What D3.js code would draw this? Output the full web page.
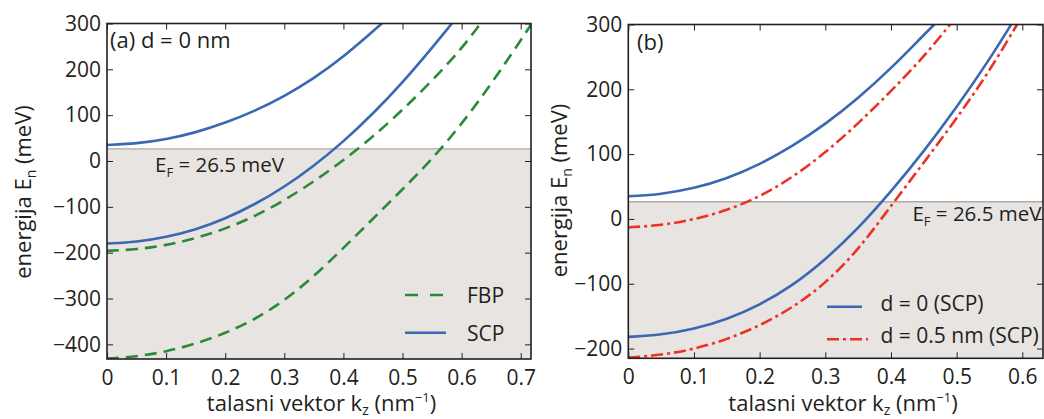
<!DOCTYPE html>
<html><head><meta charset="utf-8">
<script src="https://cdn.jsdelivr.net/npm/d3@7"></script>
<style>
body{margin:0;background:#fff;}
svg{display:block;font-family:"Open Sans",sans-serif;}
</style></head><body>
<svg id="chart" width="1044" height="419"></svg>
<script>
// ---------------- data ----------------
const fermiEnergy = 26.5;
const fermiLabel = "26.5 meV";

// panel (a): d = 0 nm
const kA_scpUpper = [0,0.05,0.1,0.15,0.2,0.25,0.3,0.35,0.4,0.45,0.465];
const eA_scpUpper = [35,38,47,62,83,109,141,180,227,283,300];
const kA_scpLower = [0,0.05,0.1,0.15,0.2,0.25,0.3,0.35,0.4,0.45,0.5,0.55,0.5835];
const eA_scpLower = [-180,-177,-166,-150,-126,-95,-57,-11,42,103,171,247,300];
const kA_fbpUpper = [0,0.05,0.1,0.15,0.2,0.25,0.3,0.35,0.4,0.45,0.5,0.55,0.6,0.632];
const eA_fbpUpper = [-196,-193,-184,-169,-148,-121,-86,-45,1,53,111,175,245,300];
const kA_fbpLower = [0,0.05,0.1,0.15,0.2,0.25,0.3,0.35,0.4,0.45,0.5,0.55,0.6,0.65,0.7,0.72];
const eA_fbpLower = [-431,-427,-416,-399,-376,-346,-305,-252,-190,-126,-62,4,80,168,263,303];

// panel (b): d = 0 vs d = 0.5 nm (SCP)
const kB_d0Upper = [0,0.05,0.1,0.15,0.2,0.25,0.3,0.35,0.4,0.45,0.466];
const eB_d0Upper = [35,38,47,62,84,112,146,186,232,284,300];
const kB_d0Lower = [0,0.05,0.1,0.15,0.2,0.25,0.3,0.35,0.4,0.45,0.5,0.55,0.583];
const eB_d0Lower = [-182,-179,-170,-155,-133,-103,-63,-15,42,104,172,246,300];
const kB_d05Upper = [0,0.05,0.1,0.15,0.2,0.25,0.3,0.35,0.4,0.45,0.49];
const eB_d05Upper = [-13,-10,-1,13,34,64,102,147,197,250,300];
const kB_d05Lower = [0,0.05,0.1,0.15,0.2,0.25,0.3,0.35,0.4,0.45,0.5,0.55,0.592];
const eB_d05Lower = [-214,-210,-201,-186,-165,-137,-100,-48,20,87,155,228,300];

const xTicksA = [0,0.1,0.2,0.3,0.4,0.5,0.6,0.7];
const yTicksA = [300,200,100,0,-100,-200,-300,-400];
const xTicksB = [0,0.1,0.2,0.3,0.4,0.5,0.6];
const yTicksB = [300,200,100,0,-100,-200];

const legendA = ["FBP","SCP"];
const legendB = ["d = 0 (SCP)","d = 0.5 nm (SCP)"];

// ---------------- drawing ----------------
const svg = d3.select("#chart");
const TXT = "#231f20";
const BLUE = "#3a68b2", GREEN = "#2a8a38", RED = "#ee3124";
const SHADE = "#e8e4e2", EFLINE = "#b2aaa6";
const DASH = "12,7", DASHDOT = "12,4,3,4";

function series(k, e){ return k.map((d,i)=>({k:d, e:e[i]})); }
const fmtX = d => d === 0 ? "0" : d3.format(".1f")(d);
const fmtY = d3.format("d");

function panel(cfg){
  const x = d3.scaleLinear().domain(cfg.xDom).range([cfg.x0, cfg.x1]);
  const y = d3.scaleLinear().domain(cfg.yDom).range([cfg.y1, cfg.y0]);
  const g = svg.append("g");
  const clipId = "clip" + cfg.id;
  svg.append("clipPath").attr("id", clipId).append("rect")
    .attr("x", cfg.x0).attr("y", cfg.y0).attr("width", cfg.x1-cfg.x0).attr("height", cfg.y1-cfg.y0);
  const plot = g.append("g").attr("clip-path", `url(#${clipId})`);
  plot.append("rect").attr("x", cfg.x0).attr("y", y(fermiEnergy))
    .attr("width", cfg.x1-cfg.x0).attr("height", cfg.y1 - y(fermiEnergy)).attr("fill", SHADE);
  plot.append("line").attr("x1", cfg.x0).attr("x2", cfg.x1)
    .attr("y1", y(fermiEnergy)).attr("y2", y(fermiEnergy))
    .attr("stroke", EFLINE).attr("stroke-width", 1.3);
  const line = d3.line().x(d=>x(d.k)).y(d=>y(d.e)).curve(d3.curveBasis);
  cfg.curves.forEach(c=>{
    plot.append("path").datum(series(c.k, c.e)).attr("d", line)
      .attr("fill","none").attr("stroke", c.color).attr("stroke-width", 2.6)
      .attr("stroke-dasharray", c.dash || null);
  });
  const styleAxis = a => { a.select(".domain").remove();
    a.selectAll(".tick line").attr("stroke", TXT).attr("stroke-width", 1);
    a.selectAll(".tick text").attr("fill", TXT).attr("font-size", 21).attr("font-family", '"Open Sans",sans-serif'); };
  g.append("g").attr("transform", `translate(0,${cfg.y1})`)
    .call(d3.axisBottom(x).tickValues(cfg.xTicks).tickSize(-6).tickPadding(11).tickFormat(fmtX)).call(styleAxis);
  g.append("g").attr("transform", `translate(0,${cfg.y0})`)
    .call(d3.axisTop(x).tickValues(cfg.xTicks).tickSize(-6).tickFormat("")).call(styleAxis);
  g.append("g").attr("transform", `translate(${cfg.x0},0)`)
    .call(d3.axisLeft(y).tickValues(cfg.yTicks).tickSize(-6).tickPadding(6).tickFormat(fmtY)).call(styleAxis);
  g.append("g").attr("transform", `translate(${cfg.x1},0)`)
    .call(d3.axisRight(y).tickValues(cfg.yTicks).tickSize(-6).tickFormat("")).call(styleAxis);
  g.append("rect").attr("x", cfg.x0).attr("y", cfg.y0).attr("width", cfg.x1-cfg.x0).attr("height", cfg.y1-cfg.y0)
    .attr("fill","none").attr("stroke", TXT).attr("stroke-width", 1.6);
  g.append("text").attr("x", cfg.labelX).attr("y", cfg.labelY).attr("font-size", 22).attr("fill", TXT).text(cfg.label);
  const ef = g.append("text").attr("x", cfg.efX).attr("y", cfg.efY).attr("font-size", 20.5)
    .attr("text-anchor", cfg.efAnchor).attr("fill", TXT);
  ef.append("tspan").text("E");
  ef.append("tspan").attr("font-size", 13).attr("dy", 5).text("F");
  ef.append("tspan").attr("dy", -5).text(" = " + fermiLabel);
  cfg.legend.forEach(l=>{
    g.append("line").attr("x1", l.lx1).attr("x2", l.lx2).attr("y1", l.ly).attr("y2", l.ly)
      .attr("stroke", l.color).attr("stroke-width", 2.6).attr("stroke-dasharray", l.dash || null);
    g.append("text").attr("x", l.tx).attr("y", l.ty).attr("font-size", 21).attr("fill", TXT).text(l.text);
  });
  const xt = g.append("text").attr("x", cfg.xTitleX).attr("y", 411).attr("text-anchor","middle")
    .attr("font-size", 22).attr("fill", TXT);
  xt.append("tspan").text("talasni vektor k");
  xt.append("tspan").attr("font-size", 14).attr("dy", 4).text("z");
  xt.append("tspan").attr("dy", -4).text(" (nm");
  xt.append("tspan").attr("font-size", 13).attr("dy", -9).text("\u22121");
  xt.append("tspan").attr("dy", 9).text(")");
  const yt = g.append("text").attr("transform", `translate(${cfg.yTitleX},${cfg.yTitleY}) rotate(-90)`)
    .attr("text-anchor","middle").attr("font-size", 22).attr("fill", TXT);
  yt.append("tspan").text("energija E");
  yt.append("tspan").attr("font-size", 14).attr("dy", 5).text("n");
  yt.append("tspan").attr("dy", -5).text(" (meV)");
}

panel({
  id:"A", x0:107, x1:531, y0:23.5, y1:359, xDom:[0,0.7174], yDom:[-432,300],
  xTicks:xTicksA, yTicks:yTicksA,
  curves:[
    {k:kA_fbpUpper, e:eA_fbpUpper, color:GREEN, dash:DASH},
    {k:kA_fbpLower, e:eA_fbpLower, color:GREEN, dash:DASH},
    {k:kA_scpUpper, e:eA_scpUpper, color:BLUE},
    {k:kA_scpLower, e:eA_scpLower, color:BLUE}
  ],
  label:"(a) d = 0 nm", labelX:110, labelY:48,
  efX:155, efY:171.5, efAnchor:"start",
  legend:[
    {text:legendA[0], color:GREEN, dash:"13,12", lx1:405, lx2:446, ly:295, tx:467, ty:302.5},
    {text:legendA[1], color:BLUE, lx1:405, lx2:446, ly:332.7, tx:467, ty:340.5}
  ],
  xTitleX:321.5, yTitleX:31, yTitleY:192
});

panel({
  id:"B", x0:628.3, x1:1043, y0:24.5, y1:358.3, xDom:[0,0.6315], yDom:[-215,300],
  xTicks:xTicksB, yTicks:yTicksB,
  curves:[
    {k:kB_d05Upper, e:eB_d05Upper, color:RED, dash:DASHDOT},
    {k:kB_d05Lower, e:eB_d05Lower, color:RED, dash:DASHDOT},
    {k:kB_d0Upper, e:eB_d0Upper, color:BLUE},
    {k:kB_d0Lower, e:eB_d0Lower, color:BLUE}
  ],
  label:"(b)", labelX:637, labelY:50,
  efX:1041.5, efY:220.5, efAnchor:"end",
  legend:[
    {text:legendB[0], color:BLUE, lx1:827, lx2:862, ly:306.7, tx:880.5, ty:310.5},
    {text:legendB[1], color:RED, dash:DASHDOT, lx1:827, lx2:868, ly:339.3, tx:880.5, ty:343.3}
  ],
  xTitleX:843, yTitleX:567, yTitleY:190.5
});
</script>
</body></html>
